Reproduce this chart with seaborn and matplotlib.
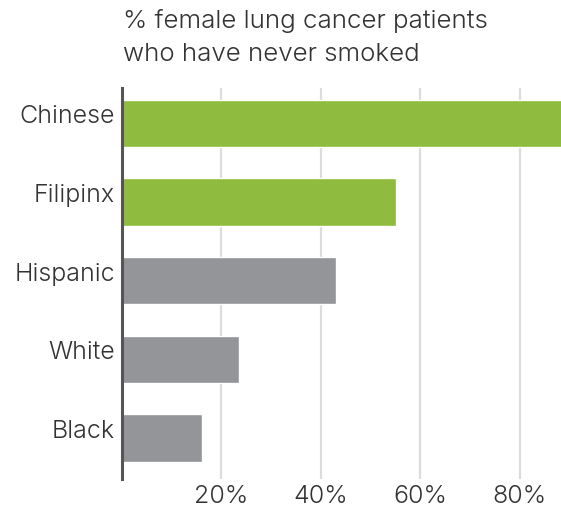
import matplotlib
matplotlib.use("Agg")
import matplotlib.pyplot as plt
import seaborn as sns
import pandas as pd

# dados
grupos = ["Chinese", "Filipinx", "Hispanic", "White", "Black"]
percentuais = [88.5, 55.1, 43.0, 23.5, 16.0]
cores_grupo = ["#8fbc3f", "#8fbc3f", "#939598", "#939598", "#939598"]
ticks_x = [20, 40, 60, 80]
rotulos_x = ["20%", "40%", "60%", "80%"]
titulo = "% female lung cancer patients\nwho have never smoked"

df = pd.DataFrame({"grupo": grupos, "pct": percentuais})

sns.set_style("white")
plt.rcParams["font.family"] = ["Inter", "DejaVu Sans"]

fig = plt.figure(figsize=(5.61, 5.09), dpi=100)
ax = fig.add_axes([122 / 561, 1 - 479 / 509, (561 - 122) / 561, (479 - 88) / 509])

# grade vertical atras das barras
for t in ticks_x:
    ax.axvline(t, color="#dcdcdc", lw=1.6, zorder=0)

sns.barplot(data=df, x="pct", y="grupo", hue="grupo", palette=cores_grupo,
            legend=False, width=0.6, saturation=1, ax=ax, zorder=2)

cor_texto = "#333333"
peso = 300
ax.set_xlim(0, 88.3)
ax.set_ylim(4.52, -0.45)
ax.set_xticks(ticks_x)
ax.set_xticklabels(rotulos_x, fontsize=18, color=cor_texto, fontweight=peso)
ax.set_yticklabels(grupos, fontsize=18, color=cor_texto, fontweight=peso)
for rot in ax.get_yticklabels():
    rot.set_va("baseline")
ax.tick_params(axis="both", length=0)
ax.tick_params(axis="x", pad=4)
ax.tick_params(axis="y", pad=5)
ax.set_xlabel("")
ax.set_ylabel("")

for lado in ["top", "right", "bottom"]:
    ax.spines[lado].set_visible(False)
ax.spines["left"].set_color("#555555")
ax.spines["left"].set_linewidth(2.2)
ax.spines["left"].set_zorder(5)

fig.text(123 / 561, 1 - 9 / 509, titulo, ha="left", va="top", fontsize=18.7,
         color=cor_texto, fontweight=peso, linespacing=1.55)

plt.savefig("out.png", dpi=100)
